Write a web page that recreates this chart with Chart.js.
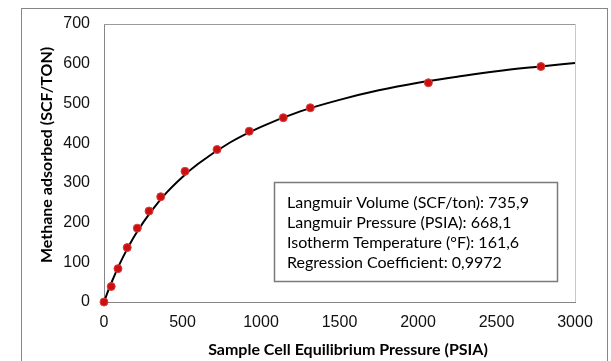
<!DOCTYPE html>
<html>
<head>
<meta charset="utf-8">
<script src="https://cdn.jsdelivr.net/npm/chart.js@4"></script>
<style>
  body { margin: 0; background: #fff; }
  #wrap { width: 611px; height: 361px; }
</style>
</head>
<body>
<div id="wrap"><canvas id="isotherm" width="611" height="361"></canvas></div>
<script>
// measured points (pressure PSIA, adsorbed SCF/ton)
var pressure = [0, 46, 89, 148, 212, 287, 361, 516, 720, 925, 1142, 1314, 2066, 2783];
var adsorbed = [0, 39, 84, 137, 186, 229, 265, 329, 384, 430, 464, 489, 552, 593];

// fitted isotherm line
var fitPressure = [0, 25, 50, 100, 150, 200, 300, 400, 500, 600, 800, 1000, 1250, 1500, 1750, 2000, 2250, 2500, 2750, 3000];
var fitAdsorbed = [0, 26.5, 51, 96, 135, 170, 228, 276, 315, 348, 401, 441, 480, 509, 533, 552, 567, 581, 592, 602];

var xTicks = [0, 500, 1000, 1500, 2000, 2500, 3000];
var yTicks = [0, 100, 200, 300, 400, 500, 600, 700];

var infoLines = [
    'Langmuir Volume (SCF/ton): 735,9',
    'Langmuir Pressure (PSIA): 668,1',
    'Isotherm Temperature (°F): 161,6',
    'Regression Coefficient: 0,9972'
];

var xTitle = 'Sample Cell Equilibrium Pressure (PSIA)';
var yTitle = 'Methane adsorbed (SCF/TON)';

function toXY(xs, ys) {
    return xs.map(function (x, i) { return { x: x, y: ys[i] }; });
}

var decorations = {
    id: 'decorations',
    beforeDraw: function (chart) {
        var ctx = chart.ctx;
        ctx.save();
        ctx.fillStyle = '#fff';
        ctx.fillRect(0, 0, chart.width, chart.height);
        ctx.strokeStyle = '#868686';
        ctx.lineWidth = 1;
        ctx.strokeRect(21.5, 8.5, 586, 400);
        ctx.restore();
    },
    afterDatasetsDraw: function (chart) {
        var ctx = chart.ctx;
        var a = chart.chartArea;
        ctx.save();
        // plot area top / right edges
        ctx.lineWidth = 1;
        ctx.strokeStyle = '#9a9a9a';
        ctx.beginPath();
        ctx.moveTo(a.left, a.top + 0.5);
        ctx.lineTo(a.right, a.top + 0.5);
        ctx.stroke();
        ctx.strokeStyle = '#c8c8c8';
        ctx.beginPath();
        ctx.moveTo(a.right + 0.5, a.top);
        ctx.lineTo(a.right + 0.5, a.bottom);
        ctx.stroke();

        // axis titles
        ctx.fillStyle = '#000';
        ctx.font = 'bold 16px Lato';
        ctx.textAlign = 'center';
        ctx.textBaseline = 'middle';
        ctx.fillText(xTitle, 348, 350);
        ctx.translate(47, 155);
        ctx.rotate(-Math.PI / 2);
        ctx.fillText(yTitle, 0, 0);
        ctx.restore();

        // info box
        ctx.save();
        ctx.fillStyle = '#fff';
        ctx.fillRect(274, 182, 283, 99);
        ctx.strokeStyle = '#7a7a7a';
        ctx.lineWidth = 1.5;
        ctx.strokeRect(274.5, 182.5, 283, 99);
        ctx.fillStyle = '#000';
        ctx.font = '16px Lato';
        ctx.textAlign = 'left';
        ctx.textBaseline = 'middle';
        infoLines.forEach(function (line, i) {
            ctx.fillText(line, 287, 203 + i * 20);
        });
        ctx.restore();
    }
};

new Chart(document.getElementById('isotherm'), {
    type: 'scatter',
    data: {
        datasets: [{
            label: 'Measured',
            data: toXY(pressure, adsorbed),
            pointRadius: 4,
            pointHoverRadius: 4,
            backgroundColor: '#cc1010',
            borderColor: '#d84040',
            borderWidth: 1,
            clip: false,
            order: 0
        }, {
            label: 'Langmuir fit',
            data: toXY(fitPressure, fitAdsorbed),
            showLine: true,
            cubicInterpolationMode: 'monotone',
            borderColor: '#000',
            borderWidth: 2,
            pointRadius: 0,
            fill: false,
            order: 1
        }]
    },
    options: {
        responsive: false,
        animation: false,
        layout: { padding: { left: 0, top: 24, right: 36, bottom: 0 } },
        plugins: {
            legend: { display: false },
            tooltip: { enabled: false }
        },
        scales: {
            x: {
                type: 'linear',
                min: 0,
                max: 3000,
                afterFit: function (scale) { scale.height = 59; },
                afterBuildTicks: function (scale) {
                    scale.ticks = xTicks.map(function (v) { return { value: v }; });
                },
                grid: { display: false, drawTicks: true, tickLength: 5, tickColor: '#868686' },
                border: { display: true, color: '#868686', width: 1 },
                ticks: {
                    color: '#111', font: { family: 'Liberation Sans', size: 16 }, padding: 6, maxRotation: 0,
                    callback: function (v) { return String(v); }
                }
            },
            y: {
                type: 'linear',
                min: 0,
                max: 700,
                afterFit: function (scale) { scale.width = 104; },
                afterBuildTicks: function (scale) {
                    scale.ticks = yTicks.map(function (v) { return { value: v }; });
                },
                grid: { display: false, drawTicks: true, tickLength: 5, tickColor: '#868686' },
                border: { display: true, color: '#868686', width: 1 },
                ticks: {
                    color: '#111', font: { family: 'Liberation Sans', size: 16 }, padding: 9,
                    callback: function (v) { return String(v); }
                }
            }
        }
    },
    plugins: [decorations]
});
</script>
</body>
</html>
